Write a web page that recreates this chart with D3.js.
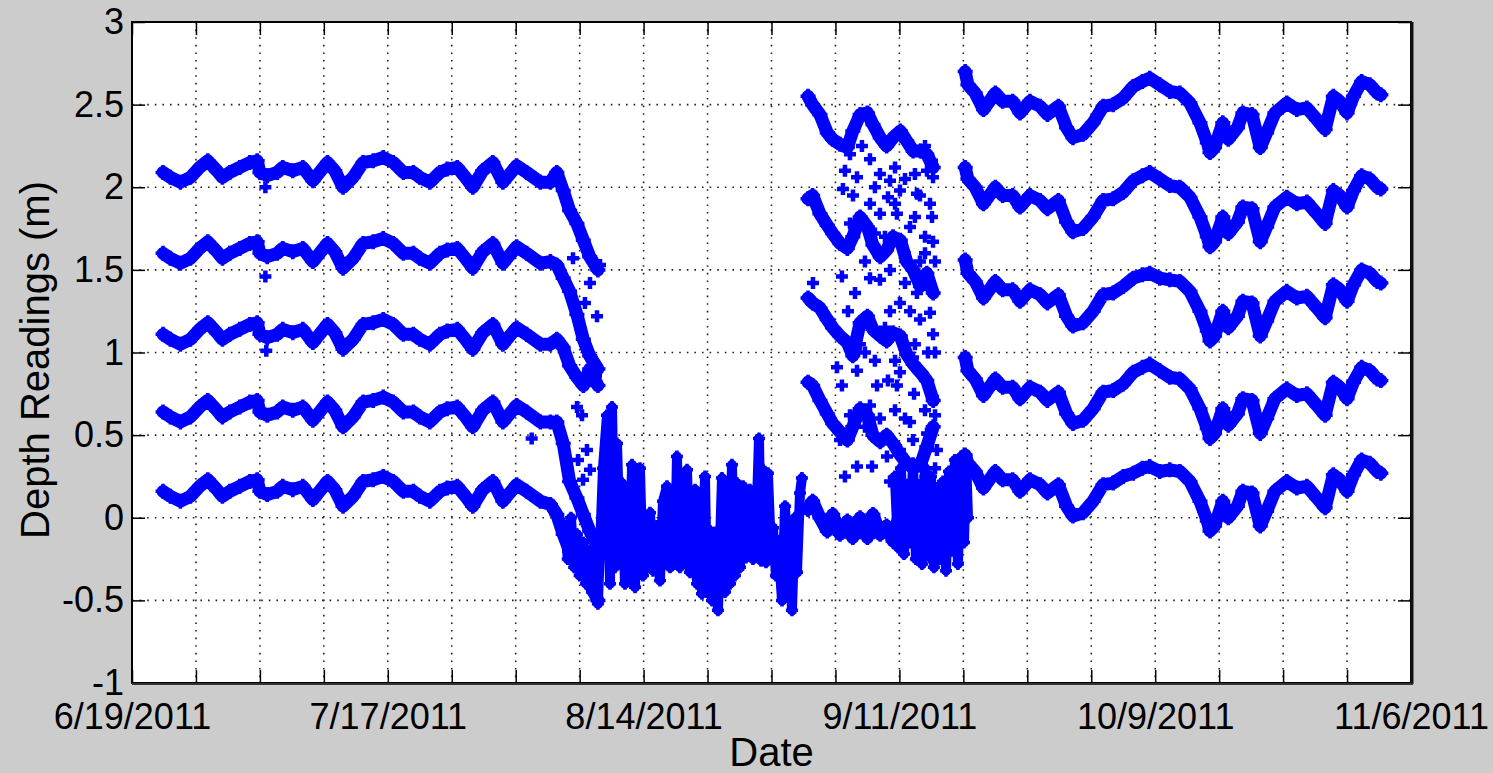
<!DOCTYPE html>
<html lang="en">
<head>
<meta charset="utf-8">
<title>Depth Readings</title>
<script src="https://cdn.jsdelivr.net/npm/d3@7"></script>
<style>
  html, body { margin: 0; padding: 0; background: #cccccc; }
  svg { display: block; }
  .tick text { font-family: 'Liberation Sans', Arial, sans-serif; font-size: 36px; fill: #000; }
  .tick line { stroke: #000; stroke-width: 1.5; }
  .label { font-family: 'Liberation Sans', Arial, sans-serif; font-size: 40px; fill: #000; text-anchor: middle; }
  .grid line { stroke: #222; stroke-width: 1.6; stroke-dasharray: 1.6, 6; }
</style>
</head>
<body>
<script>
// days after 6/19/2011, values in metres

// June - early August, five sensors
var t1 = [3.4,4.2,5.3,6.4,7.4,8.3,9.3,9.9,10.7,11.8,12.9,13.7,14.0,14.8,15.9,16.5,17.6,18.7,19.8,21.4,22.2,23.1,24.2,25.3,26.4,27.5,28.6,29.7,30.8,31.5,32.6,33.7,34.5,35.6,36.5,37.3,38.4,39.5,40.6,42.1,43.2,44.7,45.8,46.5,47.2,47.9,48.7,49.4,50.1,51.0];
var s1a = [2.09,2.06,2.03,2.06,2.12,2.16,2.10,2.06,2.09,2.12,2.15,2.16,2.09,2.07,2.09,2.12,2.10,2.12,2.04,2.15,2.10,2.00,2.06,2.15,2.16,2.18,2.15,2.09,2.09,2.06,2.03,2.09,2.11,2.12,2.06,2.00,2.10,2.15,2.03,2.13,2.09,2.03,2.03,2.09,1.98,1.86,1.78,1.68,1.58,1.50];
var s1b = [1.60,1.57,1.54,1.57,1.63,1.67,1.61,1.57,1.60,1.63,1.66,1.67,1.60,1.58,1.60,1.63,1.61,1.63,1.55,1.66,1.61,1.51,1.57,1.66,1.67,1.69,1.66,1.60,1.60,1.57,1.54,1.60,1.62,1.63,1.57,1.51,1.61,1.66,1.54,1.64,1.60,1.54,1.55,1.53,1.45,1.37,1.23,1.08,0.98,0.90];
var s1c = [1.11,1.08,1.05,1.08,1.14,1.18,1.12,1.08,1.11,1.14,1.17,1.18,1.11,1.09,1.11,1.14,1.12,1.14,1.06,1.17,1.12,1.02,1.08,1.17,1.18,1.20,1.17,1.11,1.11,1.08,1.05,1.11,1.13,1.14,1.08,1.02,1.12,1.17,1.05,1.15,1.11,1.05,1.05,1.08,1.03,0.92,0.85,0.80,0.90,0.80];
var s1d = [0.64,0.61,0.58,0.61,0.67,0.71,0.65,0.61,0.64,0.67,0.70,0.71,0.64,0.62,0.64,0.67,0.65,0.67,0.59,0.70,0.65,0.55,0.61,0.70,0.71,0.73,0.70,0.64,0.64,0.61,0.58,0.64,0.66,0.67,0.61,0.55,0.65,0.70,0.58,0.68,0.64,0.58,0.58,0.58,0.45,0.22,0.12,0.02,-0.08,-0.18];
var s1e = [0.16,0.13,0.10,0.13,0.19,0.23,0.17,0.13,0.16,0.19,0.22,0.23,0.16,0.14,0.16,0.19,0.17,0.19,0.11,0.22,0.17,0.07,0.13,0.22,0.23,0.25,0.22,0.16,0.16,0.13,0.10,0.16,0.18,0.19,0.13,0.07,0.17,0.22,0.10,0.20,0.16,0.10,0.08,0.02,-0.10,-0.20,-0.26,-0.32,-0.40,-0.50];

// early September, erratic
var t2 = [74.0,74.5,75.3,76.1,76.7,77.5,78.3,78.9,79.7,80.5,81.1,81.9,82.6,83.3,84.1,84.8,85.5,86.3,87.0,87.7];
var s2a = [2.55,2.50,2.44,2.33,2.29,2.26,2.24,2.34,2.44,2.45,2.38,2.30,2.25,2.30,2.34,2.28,2.22,2.22,2.20,2.12];
var s2b = [1.93,1.95,1.84,1.77,1.72,1.66,1.63,1.70,1.82,1.76,1.65,1.58,1.62,1.70,1.68,1.55,1.50,1.40,1.48,1.36];
var s2c = [1.33,1.30,1.27,1.20,1.15,1.10,1.06,0.98,1.18,1.22,1.14,1.10,1.07,1.12,1.10,0.99,0.93,0.88,0.83,0.71];
var s2d = [0.82,0.80,0.71,0.63,0.57,0.52,0.47,0.55,0.66,0.62,0.50,0.46,0.50,0.45,0.38,0.33,0.30,0.32,0.43,0.55];
var s2e = [0.05,0.10,0.00,-0.08,0.02,-0.10,-0.02,-0.12,0.00,-0.12,0.02,-0.10,-0.05,-0.14,0.05,-0.10,0.15,-0.20,0.25,-0.25];

// mid September - November
var t3 = [91.2,91.5,92.3,93.2,94.5,95.3,96.4,97.2,98.3,99.4,100.2,101.4,102.3,103.0,104.1,105.2,106.3,107.4,108.5,109.6,110.6,111.4,112.5,113.6,114.7,115.8,116.9,117.7,118.0,118.5,119.4,120.0,121.0,121.6,122.6,123.5,124.2,125.1,126.4,127.5,128.6,129.7,130.6,131.5,132.2,133.0,133.7,134.6,135.5,136.3,136.7];
var s3a = [2.70,2.62,2.57,2.47,2.57,2.52,2.52,2.45,2.52,2.49,2.44,2.49,2.36,2.30,2.32,2.39,2.49,2.50,2.54,2.61,2.64,2.66,2.62,2.58,2.57,2.51,2.39,2.27,2.21,2.24,2.39,2.29,2.36,2.45,2.44,2.24,2.33,2.45,2.51,2.47,2.48,2.41,2.35,2.55,2.52,2.45,2.55,2.64,2.62,2.57,2.56];
var s3b = [2.12,2.05,2.00,1.90,2.00,1.95,1.95,1.88,1.95,1.92,1.87,1.92,1.79,1.73,1.75,1.82,1.92,1.93,1.97,2.04,2.07,2.09,2.05,2.01,2.00,1.94,1.82,1.70,1.64,1.67,1.82,1.72,1.79,1.88,1.87,1.67,1.76,1.88,1.94,1.90,1.91,1.84,1.78,1.98,1.95,1.88,1.98,2.07,2.05,2.00,1.99];
var s3c = [1.56,1.48,1.43,1.33,1.43,1.38,1.38,1.31,1.38,1.35,1.30,1.35,1.22,1.16,1.18,1.25,1.35,1.36,1.40,1.45,1.47,1.48,1.45,1.44,1.43,1.37,1.25,1.13,1.07,1.10,1.25,1.15,1.22,1.31,1.30,1.10,1.19,1.31,1.37,1.33,1.34,1.27,1.21,1.41,1.38,1.31,1.41,1.50,1.48,1.43,1.42];
var s3d = [0.97,0.89,0.84,0.74,0.84,0.79,0.79,0.72,0.79,0.76,0.71,0.76,0.63,0.57,0.59,0.66,0.76,0.77,0.81,0.88,0.91,0.93,0.89,0.85,0.84,0.78,0.66,0.54,0.48,0.51,0.66,0.56,0.63,0.72,0.71,0.51,0.60,0.72,0.78,0.74,0.75,0.68,0.62,0.82,0.79,0.72,0.82,0.91,0.89,0.84,0.83];
var s3e = [0.38,0.33,0.28,0.18,0.28,0.23,0.23,0.16,0.23,0.20,0.15,0.20,0.07,0.01,0.03,0.10,0.20,0.21,0.25,0.27,0.30,0.31,0.28,0.29,0.28,0.22,0.10,-0.02,-0.08,-0.05,0.10,0.00,0.07,0.16,0.15,-0.05,0.04,0.16,0.22,0.18,0.19,0.12,0.06,0.26,0.23,0.16,0.26,0.35,0.33,0.28,0.27];

// August, all sensors collapsed near the bottom
var n1T = [47.4,47.7,48.05,48.4,48.7,49.0,49.4,49.7,50.0,50.35,50.7,51.0,51.55,51.99,52.32,52.54,52.87,53.09,53.42,53.63,53.96,54.18,54.51,54.73,55.06,55.28,55.60,55.93,56.15,56.48,56.70,57.03,57.46,57.79,58.12,58.56,58.89,59.11,59.44,59.65,59.98,60.20,60.53,60.75,61.08,61.30,61.63,61.85,62.17,62.39,62.72,62.94,63.27,63.49,63.81,64.14,64.58,64.91,65.13,65.46,65.67,66.00,66.22,66.55,66.88,67.21,67.64,67.97,68.41,68.63,68.85,69.07,69.40,69.61,69.94,70.16,70.49,70.71,71.15,71.48,71.80,72.02,72.24,72.57,72.79,73.12,73.33];
var n1V = [-0.05,-0.25,0.00,-0.30,-0.10,-0.35,-0.15,-0.40,-0.20,-0.45,-0.25,-0.52,0.30,0.62,-0.40,0.67,-0.30,0.45,-0.20,0.21,-0.40,0.05,-0.33,0.32,-0.42,0.00,0.30,-0.35,0.00,-0.30,0.03,-0.32,-0.05,-0.38,0.10,0.19,-0.30,0.11,-0.28,0.37,-0.30,0.17,-0.25,0.29,-0.33,0.11,0.17,-0.40,0.05,-0.46,0.25,-0.45,-0.08,-0.50,-0.09,-0.56,0.24,-0.45,0.07,-0.40,0.32,-0.35,0.21,-0.30,0.19,-0.24,0.17,-0.25,0.09,0.48,-0.26,0.29,-0.27,0.27,-0.20,-0.06,-0.35,-0.14,-0.50,0.07,-0.45,-0.20,-0.56,0.00,-0.33,0.15,0.24];

// bottom sensor noise, 9/2 - 9/18
var n2T = [83.5,83.85,84.17,84.5,84.83,85.16,85.49,85.81,86.14,86.47,86.8,87.13,87.46,87.78,88.11,88.44,88.77,89.1,89.43,89.75,90.08,90.41,90.74,91.07,91.29,91.51];
var n2V = [0.25,-0.18,0.30,-0.22,0.20,-0.15,0.33,-0.25,0.10,-0.28,0.30,-0.20,0.25,-0.30,0.18,-0.25,0.22,-0.32,0.28,-0.20,0.35,-0.28,0.37,-0.15,0.38,0.00];

// stray readings
var spT = [14.6,14.6,14.7,43.75,48.27,51.23,50.13,49.58,50.9,50.46,50.79,48.71,49.26,49.8,50.13,48.82,49.37,74.54,
	78.59,80.78,81.87,82.97,79.36,77.82,78.92,84.06,85.92,87.02,87.57,87.68,82.75,81.87,83.73,85.70,87.57,86.80,87.68,85.16,
	77.71,79.14,81.87,82.97,85.92,87.02,87.35,87.68,85.16,77.17,77.71,79.36,81.55,82.75,83.73,85.49,86.58,87.68,
	77.50,79.36,81.0,82.64,84.06,85.49,87.02,88.11,84.61,86.25,83.52,80.78,82.42,84.61,86.8,87.9,80.78,84.06,86.25,87.9,
	80.23,83.52,85.6,80.78,84.61,86.8,87.9,78.04,79.9,81.32,83.52,85.7,86.8,78.59,80.23,81.32,82.97,84.61,86.25,87.35,
	78.37,79.68,81.32,82.42,84.06,85.7,87.13,78.59,80.23,81.87,83.52,85.16,86.8,87.9,78.04,82.97,86.25];
var spV = [2.00,1.46,1.01,0.48,1.57,1.53,1.42,1.30,1.22,0.93,0.86,0.67,0.62,0.41,0.29,0.35,0.23,1.42,
	2.20,2.17,2.08,2.04,2.06,1.99,1.95,1.98,1.96,2.10,2.16,2.06,1.94,1.84,1.84,1.82,1.82,1.70,1.67,1.76,
	1.46,1.36,1.44,1.25,1.36,1.44,1.24,1.11,1.25,0.91,0.80,0.89,0.80,0.83,0.80,0.97,0.87,0.73,
	0.47,0.31,0.31,0.37,0.41,0.47,0.51,0.41,2.05,1.95,1.90,1.90,1.70,1.60,1.60,1.55,1.45,1.30,1.20,1.00,
	1.00,0.95,0.75,0.68,0.60,0.65,0.30,2.10,2.25,2.00,2.12,2.08,2.25,1.78,1.55,1.72,1.50,1.42,1.55,1.90,
	1.25,1.05,0.95,1.15,0.88,1.05,1.00,0.62,0.55,0.60,0.65,0.58,0.40,0.62,0.25,0.22,0.20];

var yTicks = [-1, -0.5, 0, 0.5, 1, 1.5, 2, 2.5, 3];

var W = 1493, H = 773;
var L = 132, R = 1411, T = 22, B = 683;
var BLUE = "#0000ff";
var start = Date.UTC(2011, 5, 19);
function day(d) { return new Date(start + d * 864e5); }

var x = d3.scaleUtc().domain([day(0), day(140)]).range([L, R]);
var y = d3.scaleLinear().domain([-1, 3]).range([B, T]);
var xTicks = d3.range(0, 141, 7).map(day);
var fmt = d3.utcFormat("%-m/%-d/%Y");

var svg = d3.select("body").append("svg").attr("width", W).attr("height", H);

svg.append("rect").attr("x", L).attr("y", T).attr("width", R - L).attr("height", B - T).attr("fill", "#fff");

// grid
var grid = svg.append("g").attr("class", "grid");
grid.selectAll(".gx").data(xTicks.slice(1, -1)).enter().append("line")
	.attr("x1", d => x(d)).attr("x2", d => x(d)).attr("y1", T).attr("y2", B);
grid.selectAll(".gy").data(yTicks.slice(1, -1)).enter().append("line")
	.attr("x1", L).attr("x2", R).attr("y1", d => y(d)).attr("y2", d => y(d));

var plot = svg.append("g");
var line = d3.line().x(p => x(day(p[0]))).y(p => y(p[1]));

function plus(r) { return "M" + (-r) + ",0H" + r + "M0," + (-r) + "V" + r; }

function drawSeries(days, vals, w, r) {
	var pts = days.map((d, i) => [d, vals[i]]);
	plot.append("path").datum(pts)
		.attr("d", line)
		.attr("fill", "none")
		.attr("stroke", BLUE)
		.attr("stroke-width", w)
		.attr("stroke-linejoin", "round")
		.attr("stroke-linecap", "round");
	plot.append("g").selectAll("path").data(pts).enter().append("path")
		.attr("d", plus(r))
		.attr("transform", p => "translate(" + x(day(p[0])) + "," + y(p[1]) + ")")
		.attr("stroke", BLUE)
		.attr("stroke-width", 3.5);
}

[[t1, [s1a, s1b, s1c, s1d, s1e]], [t2, [s2a, s2b, s2c, s2d, s2e]], [t3, [s3a, s3b, s3c, s3d, s3e]]]
	.forEach(function (seg) {
		seg[1].forEach(function (vals) { drawSeries(seg[0], vals, 13, 7.5); });
	});

drawSeries(n1T, n1V, 10, 6);
drawSeries(n2T, n2V, 10, 6);

plot.append("g").selectAll("path").data(spT).enter().append("path")
	.attr("d", plus(6))
	.attr("transform", (d, i) => "translate(" + x(day(d)) + "," + y(spV[i]) + ")")
	.attr("stroke", BLUE)
	.attr("stroke-width", 4.5);

// axes
function clean(g) { g.select(".domain").remove(); }

svg.append("g").attr("transform", "translate(0," + B + ")")
	.call(d3.axisBottom(x).tickValues(xTicks)
		.tickFormat((d, i) => i % 4 === 0 ? fmt(d) : "")
		.tickSizeInner(-13).tickSizeOuter(0).tickPadding(20))
	.call(clean);
svg.append("g").attr("transform", "translate(0," + T + ")")
	.call(d3.axisTop(x).tickValues(xTicks).tickFormat("")
		.tickSizeInner(-13).tickSizeOuter(0))
	.call(clean);
svg.append("g").attr("transform", "translate(" + L + ",0)")
	.call(d3.axisLeft(y).tickValues(yTicks).tickFormat(d => String(d))
		.tickSizeInner(-13).tickSizeOuter(0).tickPadding(8))
	.call(clean);
svg.append("g").attr("transform", "translate(" + R + ",0)")
	.call(d3.axisRight(y).tickValues(yTicks).tickFormat("")
		.tickSizeInner(-13).tickSizeOuter(0))
	.call(clean);

// box
svg.append("rect").attr("x", L).attr("y", T).attr("width", R - L).attr("height", B - T)
	.attr("fill", "none").attr("stroke", "#000").attr("stroke-width", 2);
svg.append("line").attr("x1", R + 1).attr("x2", R + 1).attr("y1", T).attr("y2", B + 1)
	.attr("stroke", "#111").attr("stroke-width", 3);
svg.append("line").attr("x1", L).attr("x2", R + 2).attr("y1", B + 1).attr("y2", B + 1)
	.attr("stroke", "#333").attr("stroke-width", 2);

svg.append("text").attr("class", "label")
	.attr("x", (L + R) / 2).attr("y", 766)
	.text("Date");
svg.append("text").attr("class", "label")
	.attr("transform", "translate(49,360) rotate(-90)")
	.text("Depth Readings (m)");
</script>
</body>
</html>
